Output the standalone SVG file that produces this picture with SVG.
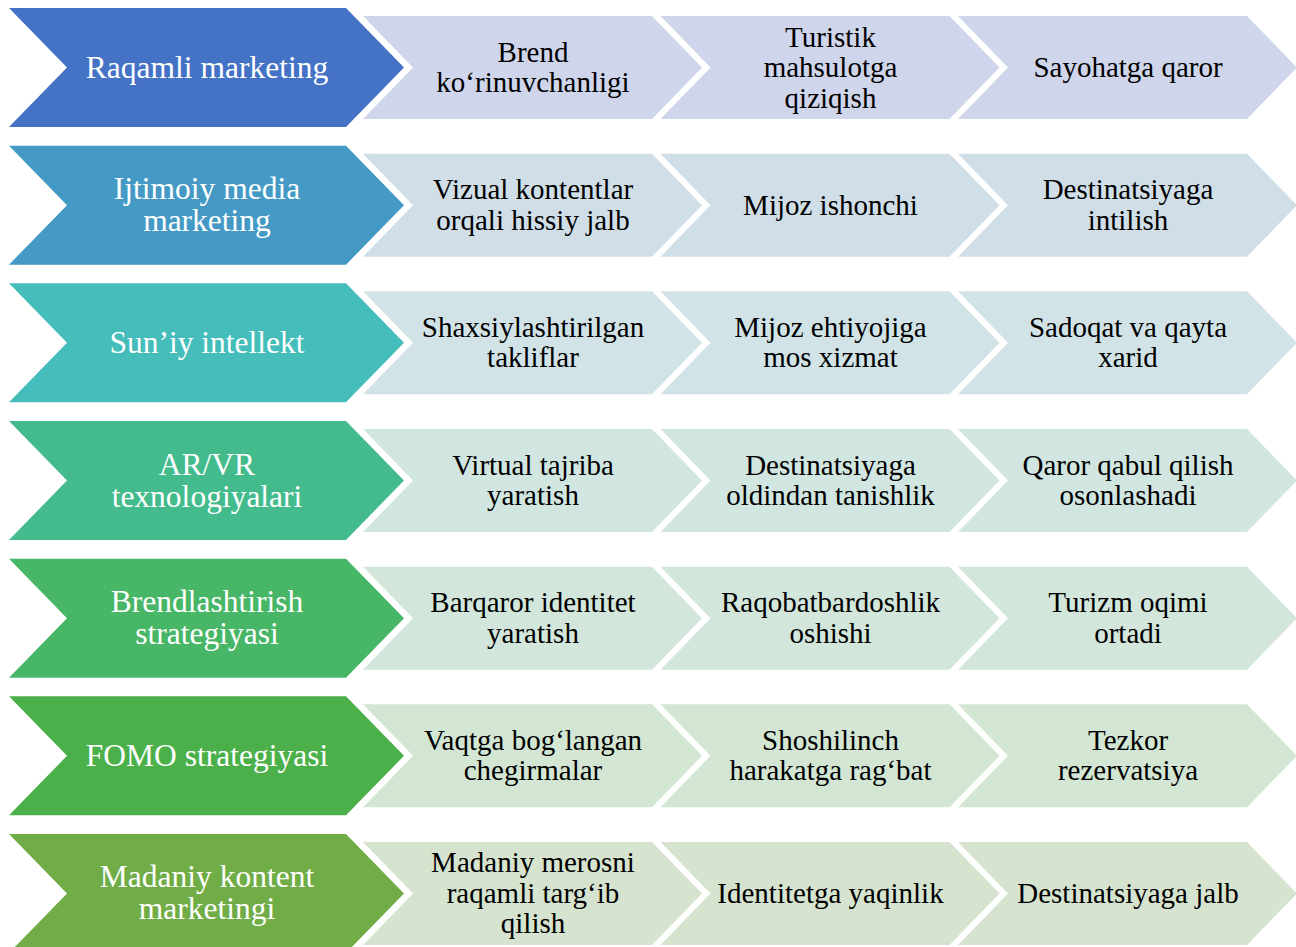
<svg xmlns="http://www.w3.org/2000/svg" xmlns:xlink="http://www.w3.org/1999/xlink" width="1296" height="947" viewBox="0 0 1296 947">
<style>
.bt{font-family:"Liberation Serif","Times New Roman",serif;font-size:31.5px;fill:#ffffff;text-anchor:middle}
.st{font-family:"Liberation Serif","Times New Roman",serif;font-size:29px;fill:#000000;text-anchor:middle}
</style>
<defs>
<path id="big" d="M0,0 H337 L395,59.5 L337,119 H0 L58,59.5 Z"/>
<path id="small" d="M0,0 H289 L339,51.5 L289,103 H0 L50,51.5 Z"/>
</defs>
<rect width="1296" height="947" fill="#ffffff"/>
<g id="connectors"/>

<!-- Row 1 c=67.5 -->
<g id="row1-main"><use xlink:href="#big" x="9" y="8" fill="#4472C4"/><text class="bt" x="207" y="77.5">Raqamli marketing</text></g>
<g id="row1-s1"><use xlink:href="#small" x="363" y="16" fill="#CFD5EA"/><text class="st" y="61.5"><tspan x="533">Brend</tspan><tspan x="533" dy="30.5">ko‘rinuvchanligi</tspan></text></g>
<g id="row1-s2"><use xlink:href="#small" x="660.5" y="16" fill="#CFD5EA"/><text class="st" y="46.5"><tspan x="830.5">Turistik</tspan><tspan x="830.5" dy="30.5">mahsulotga</tspan><tspan x="830.5" dy="30.5">qiziqish</tspan></text></g>
<g id="row1-s3"><use xlink:href="#small" x="958" y="16" fill="#CFD5EA"/><text class="st" x="1128" y="77">Sayohatga qaror</text></g>

<!-- Row 2 c=205.2 -->
<g id="row2-main"><use xlink:href="#big" x="9" y="145.7" fill="#449AC4"/><text class="bt" y="199"><tspan x="207">Ijtimoiy media</tspan><tspan x="207" dy="32">marketing</tspan></text></g>
<g id="row2-s1"><use xlink:href="#small" x="363" y="153.7" fill="#D0DEE8"/><text class="st" y="199.2"><tspan x="533">Vizual kontentlar</tspan><tspan x="533" dy="30.5">orqali hissiy jalb</tspan></text></g>
<g id="row2-s2"><use xlink:href="#small" x="660.5" y="153.7" fill="#D0DEE8"/><text class="st" x="830.5" y="214.7">Mijoz ishonchi</text></g>
<g id="row2-s3"><use xlink:href="#small" x="958" y="153.7" fill="#D0DEE8"/><text class="st" y="199.2"><tspan x="1128">Destinatsiyaga</tspan><tspan x="1128" dy="30.5">intilish</tspan></text></g>

<!-- Row 3 c=342.8 -->
<g id="row3-main"><use xlink:href="#big" x="9" y="283.3" fill="#45BDBA"/><text class="bt" x="207" y="352.8">Sun’iy intellekt</text></g>
<g id="row3-s1"><use xlink:href="#small" x="363" y="291.3" fill="#D1E3E6"/><text class="st" y="336.8"><tspan x="533">Shaxsiylashtirilgan</tspan><tspan x="533" dy="30.5">takliflar</tspan></text></g>
<g id="row3-s2"><use xlink:href="#small" x="660.5" y="291.3" fill="#D1E3E6"/><text class="st" y="336.8"><tspan x="830.5">Mijoz ehtiyojiga</tspan><tspan x="830.5" dy="30.5">mos xizmat</tspan></text></g>
<g id="row3-s3"><use xlink:href="#small" x="958" y="291.3" fill="#D1E3E6"/><text class="st" y="336.8"><tspan x="1128">Sadoqat va qayta</tspan><tspan x="1128" dy="30.5">xarid</tspan></text></g>

<!-- Row 4 c=480.5 -->
<g id="row4-main"><use xlink:href="#big" x="9" y="421" fill="#44BB8C"/><text class="bt" y="474.5"><tspan x="207">AR/VR</tspan><tspan x="207" dy="32">texnologiyalari</tspan></text></g>
<g id="row4-s1"><use xlink:href="#small" x="363" y="429" fill="#D1E6E1"/><text class="st" y="474.5"><tspan x="533">Virtual tajriba</tspan><tspan x="533" dy="30.5">yaratish</tspan></text></g>
<g id="row4-s2"><use xlink:href="#small" x="660.5" y="429" fill="#D1E6E1"/><text class="st" y="474.5"><tspan x="830.5">Destinatsiyaga</tspan><tspan x="830.5" dy="30.5">oldindan tanishlik</tspan></text></g>
<g id="row4-s3"><use xlink:href="#small" x="958" y="429" fill="#D1E6E1"/><text class="st" y="474.5"><tspan x="1128">Qaror qabul qilish</tspan><tspan x="1128" dy="30.5">osonlashadi</tspan></text></g>

<!-- Row 5 c=618.2 -->
<g id="row5-main"><use xlink:href="#big" x="9" y="558.7" fill="#48B667"/><text class="bt" y="612"><tspan x="207">Brendlashtirish</tspan><tspan x="207" dy="32">strategiyasi</tspan></text></g>
<g id="row5-s1"><use xlink:href="#small" x="363" y="566.7" fill="#D2E6DB"/><text class="st" y="612.2"><tspan x="533">Barqaror identitet</tspan><tspan x="533" dy="30.5">yaratish</tspan></text></g>
<g id="row5-s2"><use xlink:href="#small" x="660.5" y="566.7" fill="#D2E6DB"/><text class="st" y="612.2"><tspan x="830.5">Raqobatbardoshlik</tspan><tspan x="830.5" dy="30.5">oshishi</tspan></text></g>
<g id="row5-s3"><use xlink:href="#small" x="958" y="566.7" fill="#D2E6DB"/><text class="st" y="612.2"><tspan x="1128">Turizm oqimi</tspan><tspan x="1128" dy="30.5">ortadi</tspan></text></g>

<!-- Row 6 c=755.8 -->
<g id="row6-main"><use xlink:href="#big" x="9" y="696.3" fill="#4CB04A"/><text class="bt" x="207" y="765.8">FOMO strategiyasi</text></g>
<g id="row6-s1"><use xlink:href="#small" x="363" y="704.3" fill="#D2E6D3"/><text class="st" y="749.8"><tspan x="533">Vaqtga bog‘langan</tspan><tspan x="533" dy="30.5">chegirmalar</tspan></text></g>
<g id="row6-s2"><use xlink:href="#small" x="660.5" y="704.3" fill="#D2E6D3"/><text class="st" y="749.8"><tspan x="830.5">Shoshilinch</tspan><tspan x="830.5" dy="30.5">harakatga rag‘bat</tspan></text></g>
<g id="row6-s3"><use xlink:href="#small" x="958" y="704.3" fill="#D2E6D3"/><text class="st" y="749.8"><tspan x="1128">Tezkor</tspan><tspan x="1128" dy="30.5">rezervatsiya</tspan></text></g>

<!-- Row 7 c=893.5 -->
<g id="row7-main"><use xlink:href="#big" x="9" y="834" fill="#70AD47"/><text class="bt" y="887"><tspan x="207">Madaniy kontent</tspan><tspan x="207" dy="32">marketingi</tspan></text></g>
<g id="row7-s1"><use xlink:href="#small" x="363" y="842" fill="#D5E3CF"/><text class="st" y="872"><tspan x="533">Madaniy merosni</tspan><tspan x="533" dy="30.5">raqamli targ‘ib</tspan><tspan x="533" dy="30.5">qilish</tspan></text></g>
<g id="row7-s2"><use xlink:href="#small" x="660.5" y="842" fill="#D5E3CF"/><text class="st" x="830.5" y="903">Identitetga yaqinlik</text></g>
<g id="row7-s3"><use xlink:href="#small" x="958" y="842" fill="#D5E3CF"/><text class="st" x="1128" y="903">Destinatsiyaga jalb</text></g>
</svg>
